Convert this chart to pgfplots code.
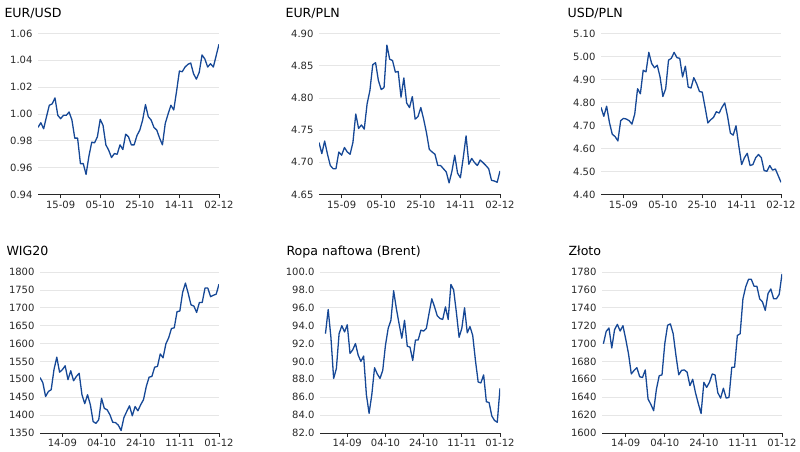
\documentclass[border=0pt]{standalone}
\usepackage{fontspec}
\setmainfont{DejaVu Sans}
\usepackage{pgfplots}
\pgfplotsset{compat=1.18}

\definecolor{lineblue}{RGB}{22,72,150}
\definecolor{gridgray}{RGB}{230,230,230}
\definecolor{txt}{RGB}{40,40,40}

\pgfplotsset{
  panel/.style={
    scale only axis, width=181pt, height=161pt,
    xmin=0, xmax=64,
    axis x line*=bottom, axis y line*=left,
    y axis line style={draw=none},
    x axis line style={draw=txt, line width=0.9pt},
    ytick style={draw=none},
    xtick style={draw=txt, line width=0.8pt},
    tick align=outside, major tick length=4pt,
    ymajorgrids, grid style={gridgray, line width=0.7pt},
    xtick={8,22,36,50,64},
    tick label style={font=\fontsize{10}{12}\selectfont, text=txt},
    yticklabel style={xshift=2pt},
    xticklabel style={yshift=1pt},
    /pgf/number format/assume math mode=true,
    /pgf/number format/1000 sep={},
    title style={at={(0,1)}, anchor=base west, xshift=-37pt, yshift=10pt,
      font=\fontsize{12.6}{15}\selectfont, text=black},
    cycle list={{lineblue, mark=none}},
    every axis plot post/.append style={line width=1.3pt, line join=round},
  },
  topx/.style={xticklabels={15-09,05-10,25-10,14-11,02-12}},
  botx/.style={xticklabels={14-09,04-10,24-10,11-11,01-12}},
}

\begin{document}
\begin{tikzpicture}
\useasboundingbox (0,0) rectangle (800pt,452pt);

% EUR/USD
\begin{axis}[panel, topx, at={(38pt,257.5pt)}, anchor=south west,
  title={EUR/USD}, ymin=0.94, ymax=1.06, ytick={0.94,0.96,...,1.07},
  yticklabel style={/pgf/number format/.cd, fixed, fixed zerofill, precision=2}]
\addplot coordinates {
(0,0.990)(1,0.9935)(2,0.989)(3,0.998)(4,1.0065)(5,1.0075)(6,1.012)(7,0.999)
(8,0.9965)(9,0.999)(10,0.999)(11,1.0015)(12,0.9955)(13,0.982)(14,0.982)(15,0.963)
(16,0.963)(17,0.955)(18,0.9685)(19,0.979)(20,0.9785)(21,0.983)(22,0.996)(23,0.9915)
(24,0.977)(25,0.973)(26,0.9675)(27,0.9705)(28,0.970)(29,0.977)(30,0.9735)(31,0.985)
(32,0.983)(33,0.977)(34,0.977)(35,0.984)(36,0.988)(37,0.9955)(38,1.007)(39,0.998)
(40,0.9955)(41,0.990)(42,0.988)(43,0.982)(44,0.977)(45,0.993)(46,1.000)(47,1.0065)
(48,1.003)(49,1.017)(50,1.032)(51,1.0315)(52,1.035)(53,1.037)(54,1.038)(55,1.030)
(56,1.026)(57,1.031)(58,1.044)(59,1.041)(60,1.035)(61,1.0375)(62,1.035)(63,1.0435)
(64,1.052)};
\end{axis}

% EUR/PLN
\begin{axis}[panel, topx, at={(319pt,257.5pt)}, anchor=south west,
  title={EUR/PLN}, ymin=4.65, ymax=4.90, ytick={4.65,4.70,...,4.91},
  yticklabel style={/pgf/number format/.cd, fixed, fixed zerofill, precision=2}]
\addplot coordinates {
(0,4.7307)(1,4.7135)(2,4.733)(3,4.7125)(4,4.695)(5,4.690)(6,4.690)(7,4.716)
(8,4.711)(9,4.723)(10,4.716)(11,4.7125)(12,4.731)(13,4.775)(14,4.7525)(15,4.758)
(16,4.7515)(17,4.7905)(18,4.8115)(19,4.8515)(20,4.8547)(21,4.827)(22,4.813)(23,4.816)
(24,4.882)(25,4.860)(26,4.858)(27,4.840)(28,4.841)(29,4.801)(30,4.831)(31,4.792)
(32,4.785)(33,4.802)(34,4.767)(35,4.771)(36,4.785)(37,4.767)(38,4.746)(39,4.720)
(40,4.716)(41,4.7125)(42,4.695)(43,4.695)(44,4.690)(45,4.685)(46,4.668)(47,4.686)
(48,4.711)(49,4.683)(50,4.676)(51,4.707)(52,4.741)(53,4.697)(54,4.706)(55,4.6995)
(56,4.695)(57,4.7035)(58,4.6995)(59,4.695)(60,4.690)(61,4.672)(62,4.671)(63,4.669)
(64,4.6865)};
\end{axis}

% USD/PLN
\begin{axis}[panel, topx, at={(601pt,257.5pt)}, anchor=south west, width=180pt,
  title={USD/PLN}, ymin=4.40, ymax=5.10, ytick={4.4,4.5,...,5.11},
  yticklabel style={/pgf/number format/.cd, fixed, fixed zerofill, precision=2}]
\addplot coordinates {
(0,4.779)(1,4.740)(2,4.784)(3,4.713)(4,4.662)(5,4.652)(6,4.633)(7,4.721)
(8,4.731)(9,4.728)(10,4.721)(11,4.706)(12,4.750)(13,4.860)(14,4.838)(15,4.940)
(16,4.933)(17,5.018)(18,4.970)(19,4.951)(20,4.962)(21,4.911)(22,4.826)(23,4.860)
(24,4.984)(25,4.992)(26,5.018)(27,4.995)(28,4.992)(29,4.911)(30,4.958)(31,4.867)
(32,4.863)(33,4.908)(34,4.882)(35,4.848)(36,4.845)(37,4.779)(38,4.711)(39,4.725)
(40,4.735)(41,4.760)(42,4.754)(43,4.779)(44,4.798)(45,4.740)(46,4.667)(47,4.658)
(48,4.699)(49,4.611)(50,4.530)(51,4.560)(52,4.579)(53,4.526)(54,4.530)(55,4.560)
(56,4.574)(57,4.560)(58,4.504)(59,4.501)(60,4.526)(61,4.506)(62,4.511)(63,4.482)
(64,4.453)};
\end{axis}

% WIG20
\begin{axis}[panel, botx, at={(40pt,19pt)}, anchor=south west, width=179pt,
  title={WIG20}, ymin=1350, ymax=1800, ytick={1350,1400,...,1800}]
\addplot coordinates {
(0,1505)(1,1491)(2,1452)(3,1466)(4,1471)(5,1527)(6,1562)(7,1520)
(8,1527)(9,1538)(10,1499)(11,1524)(12,1496)(13,1508)(14,1517)(15,1457)
(16,1432)(17,1457)(18,1429)(19,1382)(20,1377)(21,1387)(22,1447)(23,1419)
(24,1415)(25,1401)(26,1380)(27,1379)(28,1372)(29,1357)(30,1393)(31,1410)
(32,1426)(33,1398)(34,1424)(35,1412)(36,1429)(37,1443)(38,1480)(39,1506)
(40,1508)(41,1534)(42,1536)(43,1571)(44,1560)(45,1599)(46,1616)(47,1642)
(48,1644)(49,1689)(50,1691)(51,1743)(52,1769)(53,1740)(54,1708)(55,1705)
(56,1687)(57,1715)(58,1715)(59,1755)(60,1755)(61,1731)(62,1735)(63,1738)
(64,1766)};
\end{axis}

% Brent
\begin{axis}[panel, botx, at={(320pt,19pt)}, anchor=south west, width=180pt, xmin=-2,
  title={Ropa naftowa (Brent)}, ymin=82, ymax=100, ytick={82,84,...,100},
  yticklabel style={/pgf/number format/.cd, fixed, fixed zerofill, precision=1}]
\addplot coordinates {
(0,93.1)(1,95.8)(2,92.7)(3,88.1)(4,89.2)(5,93.1)(6,94.0)(7,93.3)
(8,94.1)(9,90.9)(10,91.3)(11,92.0)(12,90.7)(13,90.0)(14,90.6)(15,86.3)
(16,84.2)(17,86.3)(18,89.3)(19,88.6)(20,88.1)(21,89.0)(22,91.8)(23,93.7)
(24,94.6)(25,97.9)(26,95.9)(27,94.2)(28,92.6)(29,94.6)(30,91.7)(31,91.6)
(32,90.1)(33,92.4)(34,92.4)(35,93.5)(36,93.4)(37,93.7)(38,95.4)(39,97.0)
(40,96.1)(41,95.1)(42,94.8)(43,94.7)(44,96.1)(45,94.7)(46,98.6)(47,98.0)
(48,95.5)(49,92.7)(50,93.7)(51,96.0)(52,93.2)(53,93.9)(54,92.9)(55,90.1)
(56,87.7)(57,87.6)(58,88.5)(59,85.5)(60,85.4)(61,83.9)(62,83.4)(63,83.2)
(64,87.0)};
\end{axis}

% Zloto
\begin{axis}[panel, botx, at={(602pt,19pt)}, anchor=south west, width=180pt, xmin=-0.5,
  title={Złoto}, ymin=1600, ymax=1780, ytick={1600,1620,...,1780}]
\addplot coordinates {
(0,1699.8)(1,1713.6)(2,1717.4)(3,1695)(4,1715.5)(5,1721.5)(6,1714)(7,1720)
(8,1705)(9,1688.5)(10,1666)(11,1670)(12,1673)(13,1663)(14,1662)(15,1670.5)
(16,1638)(17,1632)(18,1625)(19,1649)(20,1664)(21,1665)(22,1700)(23,1720.4)
(24,1722)(25,1711)(26,1686.6)(27,1665)(28,1670)(29,1670.5)(30,1668)(31,1653)
(32,1660)(33,1645)(34,1633)(35,1621.8)(36,1656.6)(37,1651)(38,1656.6)(39,1666)
(40,1665)(41,1645)(42,1639)(43,1650)(44,1639)(45,1639.8)(46,1673.5)(47,1673.5)
(48,1709)(49,1711)(50,1750)(51,1763.5)(52,1771.8)(53,1771.8)(54,1764)(55,1764)
(56,1750)(57,1746.6)(58,1737)(59,1756)(60,1761)(61,1750)(62,1750)(63,1755)
(64,1777.8)};
\end{axis}
\end{tikzpicture}
\end{document}
